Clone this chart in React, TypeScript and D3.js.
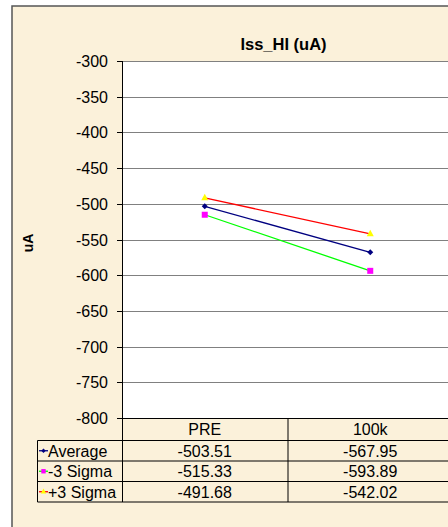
import React from "react";
import * as d3 from "d3";

const categories = ["PRE", "100k"];
const seriesNames = ["Average", "-3 Sigma", "+3 Sigma"];
const averageValues = [-503.51, -567.95];
const minus3Values = [-515.33, -593.89];
const plus3Values = [-491.68, -542.02];
const yTicks = [-300, -350, -400, -450, -500, -550, -600, -650, -700, -750, -800];

const lineColors = ["#000080", "#00FF00", "#FF0000"];
const markerColors = ["#000080", "#FF00FF", "#FFFF00"];
const markerShapes = ["diamond", "square", "triangle"];

function Marker({ shape, x, y, color, s = 3 }: any) {
  if (shape === "square") return <rect x={x - s} y={y - s} width={2 * s} height={2 * s} fill={color} />;
  if (shape === "triangle")
    return <path d={`M${x},${y - s - 1}L${x + s + 0.5},${y + s - 0.5}L${x - s - 0.5},${y + s - 0.5}Z`} fill={color} />;
  return <path d={`M${x},${y - s}L${x + s},${y}L${x},${y + s}L${x - s},${y}Z`} fill={color} />;
}

export default function App() {
  const W = 448, H = 527;
  const left = 122, top = 61, bottom = 418, right = 453;
  const y = d3.scaleLinear().domain([-800, -300]).range([bottom, top]);
  const x = d3.scaleBand<string>().domain(categories).range([left, right]);
  const cx = (c: string) => (x(c) as number) + x.bandwidth() / 2;
  const data = [averageValues, minus3Values, plus3Values];
  const line = d3.line<number>().x((_, i) => cx(categories[i])).y((v) => y(v));
  const rowTops = [440.5, 461, 481.5];
  const rowH = 20.5;
  const font = "'Liberation Sans', Arial, sans-serif";
  const fmt = (v: number) => v.toFixed(2);
  const fs = 16;
  return (
    <svg width={W} height={H} style={{ position: "absolute", left: 0, top: 0 }} fontFamily={font}>
      <rect x={0} y={0} width={W} height={H} fill="#ffffff" />
      <rect x={12} y={6} width={W + 100} height={H + 100} fill="#FBF1DA" stroke="#555" strokeWidth={1.5} />
      <rect x={left} y={top} width={right - left} height={bottom - top} fill="#ffffff" />
      {yTicks.map((t) => (
        <line key={t} x1={left} x2={right} y1={Math.round(y(t)) + 0.5} y2={Math.round(y(t)) + 0.5}
          stroke={t === -800 ? "#000" : "#808080"} strokeWidth={1} />
      ))}
      {yTicks.map((t) => (
        <g key={"t" + t}>
          <line x1={117} x2={left} y1={Math.round(y(t)) + 0.5} y2={Math.round(y(t)) + 0.5} stroke="#000" />
          <text x={108} y={y(t) + 6} textAnchor="end" fontSize={fs} fill="#000">{t}</text>
        </g>
      ))}
      <line x1={left + 0.5} x2={left + 0.5} y1={top} y2={rowTops[2] + rowH} stroke="#000" />
      <text x={283.5} y={50} textAnchor="middle" fontSize={16.5} fontWeight="bold">Iss_HI (uA)</text>
      <text transform={`translate(33,${243}) rotate(-90)`} textAnchor="middle" fontSize={14} fontWeight="bold">uA</text>
      {data.map((vals, i) => (
        <path key={"l" + i} d={line(vals) || ""} fill="none" stroke={lineColors[i]} strokeWidth={1.3} />
      ))}
      {data.map((vals, i) =>
        vals.map((v, j) => (
          <Marker key={"m" + i + j} shape={markerShapes[i]} x={cx(categories[j])} y={y(v)} color={markerColors[i]} />
        ))
      )}
      {categories.map((c) => (
        <g key={"h" + c}>
          <text x={cx(c)} y={435} textAnchor="middle" fontSize={fs}>{c}</text>
          <line x1={(x(c) as number) + x.bandwidth() + 0.5} x2={(x(c) as number) + x.bandwidth() + 0.5} y1={bottom} y2={rowTops[2] + rowH} stroke="#000" />
        </g>
      ))}
      {[rowTops[0], rowTops[1], rowTops[2], rowTops[2] + rowH].map((ry, k) => (
        <line key={"r" + k} x1={37.5} x2={right} y1={ry} y2={ry} stroke="#000" />
      ))}
      <line x1={37.5} x2={37.5} y1={rowTops[0]} y2={rowTops[2] + rowH} stroke="#000" />
      {seriesNames.map((name, i) => {
        const ry = rowTops[i] + rowH / 2;
        return (
          <g key={"s" + name}>
            <line x1={39} x2={48} y1={ry} y2={ry} stroke={lineColors[i]} strokeWidth={1.3} />
            <Marker shape={markerShapes[i]} x={43.5} y={ry} color={markerColors[i]} s={2.2} />
            <text x={48} y={ry + 6} fontSize={fs}>{name}</text>
            {categories.map((c, j) => (
              <text key={c} x={cx(c)} y={ry + 6} textAnchor="middle" fontSize={fs}>{fmt(data[i][j])}</text>
            ))}
          </g>
        );
      })}
    </svg>
  );
}
